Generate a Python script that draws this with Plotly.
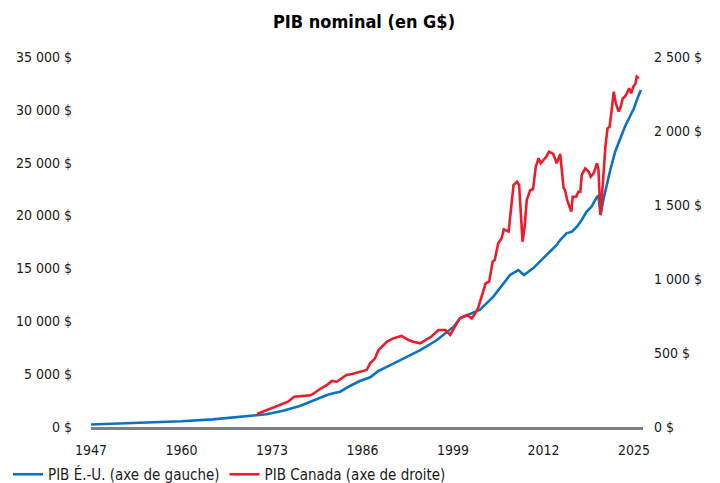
import plotly.graph_objects as go

# US nominal GDP (left axis, G$)
us_year = [1947.0, 1950.0, 1955.0, 1960.0, 1964.5, 1968.5, 1971.3, 1972.2, 1974.6, 1977.0,
           1979.4, 1980.9, 1981.8, 1982.8, 1984.2, 1985.6, 1987.1, 1988.3, 1990.0, 1992.0,
           1994.3, 1996.7, 1999.1, 2000.0, 2001.2, 2002.9, 2004.8, 2006.2, 2007.2, 2008.4,
           2009.2, 2010.5, 2012.0, 2013.9, 2014.4, 2015.3, 2016.1, 2016.8, 2017.5, 2018.2,
           2018.9, 2019.7, 2019.9, 2020.2, 2020.6, 2021.1, 2021.6, 2022.3, 2023.0, 2023.7,
           2024.4, 2025.0, 2025.6, 2026.0]
us_gdp = [240, 300, 420, 540, 720, 960, 1160, 1200, 1540, 1990,
          2620, 3030, 3190, 3340, 3880, 4350, 4700, 5300, 5860, 6530,
          7280, 8230, 9490, 10280, 10600, 11100, 12330, 13590, 14380, 14850,
          14380, 15010, 15960, 17220, 17690, 18320, 18480, 18950, 19580, 20370,
          20840, 21790, 21850, 20060, 21470, 23050, 24310, 26040, 27310, 28410,
          29350, 30150, 31250, 31880]

# Canada nominal GDP (right axis, G$)
ca_year = [1970.85, 1972.7, 1973.7, 1974.6, 1975.3, 1976.2, 1977.0, 1978.5, 1978.9, 1979.7,
           1980.9, 1981.6, 1982.3, 1983.0, 1983.7, 1984.5, 1985.2, 1985.9, 1986.6, 1987.1,
           1987.8, 1988.3, 1989.5, 1990.4, 1991.6, 1992.6, 1993.3, 1994.3, 1995.0, 1996.0,
           1996.9, 1997.9, 1998.6, 1999.3, 2000.0, 2001.0, 2001.7, 2002.2, 2002.6, 2003.1,
           2003.7, 2004.2, 2004.7, 2005.0, 2005.5, 2006.0, 2006.3, 2007.0, 2007.7, 2008.2,
           2008.5, 2009.0, 2009.3, 2009.6, 2010.1, 2010.5, 2010.9, 2011.3, 2011.6, 2012.0,
           2012.4, 2012.8, 2013.4, 2013.9, 2014.4, 2014.9, 2015.1, 2015.4, 2016.0, 2016.2,
           2016.7, 2017.0, 2017.3, 2017.5, 2018.0, 2018.5, 2018.8, 2019.2, 2019.7, 2019.9,
           2020.2, 2020.5, 2020.9, 2021.2, 2021.5, 2021.8, 2022.1, 2022.4, 2022.8, 2023.1,
           2023.4, 2023.7, 2024.0, 2024.3, 2024.6, 2024.9, 2025.2, 2025.4, 2025.7]
ca_gdp = [88, 122, 142, 160, 171, 205, 209, 214, 223, 250,
          284, 311, 306, 329, 351, 358, 367, 374, 385, 430,
          464, 520, 576, 599, 615, 588, 576, 565, 588, 615,
          655, 655, 622, 678, 735, 757, 734, 768, 802, 880,
          971, 982, 1117, 1128, 1241, 1275, 1336, 1320, 1635, 1657,
          1635, 1252, 1353, 1534, 1601, 1606, 1759, 1816, 1782, 1804,
          1826, 1860, 1845, 1782, 1845, 1613, 1601, 1534, 1455, 1556,
          1556, 1590, 1590, 1703, 1748, 1725, 1691, 1714, 1782, 1737,
          1432, 1624, 1894, 2018, 2029, 2142, 2266, 2187, 2131, 2164,
          2221, 2232, 2255, 2289, 2255, 2300, 2318, 2367, 2356]

x_ticks = [1947, 1960, 1973, 1986, 1999, 2012, 2025]
left_ticks = [0, 5000, 10000, 15000, 20000, 25000, 30000, 35000]
left_labels = ["0 $", "5 000 $", "10 000 $", "15 000 $", "20 000 $", "25 000 $", "30 000 $", "35 000 $"]
right_ticks = [0, 500, 1000, 1500, 2000, 2500]
right_labels = ["0 $", "500 $", "1 000 $", "1 500 $", "2 000 $", "2 500 $"]

FONT = "DejaVu Sans Condensed, Liberation Sans Narrow, Roboto, sans-serif"
BLUE = "#0A72C2"
RED = "#EC1C2A"

fig = go.Figure()
fig.add_trace(go.Scatter(x=us_year, y=us_gdp, mode="lines", name="PIB É.-U. (axe de gauche)",
                         line=dict(color=BLUE, width=2.6), yaxis="y"))
fig.add_trace(go.Scatter(x=ca_year, y=ca_gdp, mode="lines", name="PIB Canada (axe de droite)",
                         line=dict(color=RED, width=2.6), yaxis="y2"))

fig.update_layout(
    width=712, height=483,
    margin=dict(l=83, r=77, t=49, b=64, autoexpand=False),
    paper_bgcolor="white", plot_bgcolor="white",
    font=dict(family=FONT, size=14, color="#1a1a1a"),
    title=dict(text="<b>PIB nominal (en G$)</b>", x=0.5, xanchor="center",
               y=0.971, yref="container", yanchor="middle",
               font=dict(family=FONT, size=18, color="#000000")),
    xaxis=dict(range=[1947, 2026.3], tickvals=x_ticks, ticktext=[str(t) for t in x_ticks],
               showgrid=False, zeroline=False, showline=True, linecolor="#808080", linewidth=2.5,
               ticks="", ticklabelstandoff=8, automargin=False),
    yaxis=dict(range=[0, 35000], tickvals=left_ticks, ticktext=left_labels,
               showgrid=False, zeroline=False, showline=False, ticks="",
               ticklabelstandoff=18, automargin=False),
    yaxis2=dict(range=[0, 2500], tickvals=right_ticks, ticktext=right_labels,
                overlaying="y", side="right", showgrid=False, zeroline=False,
                showline=False, ticks="", ticklabelstandoff=10, automargin=False),
    legend=dict(orientation="h", xref="container", x=-0.012, xanchor="left",
                yref="container", y=0.0, yanchor="bottom",
                font=dict(family=FONT, size=15), itemwidth=30, tracegroupgap=0,
                bgcolor="rgba(0,0,0,0)"),
    showlegend=True,
)

fig.write_html("out.html")
